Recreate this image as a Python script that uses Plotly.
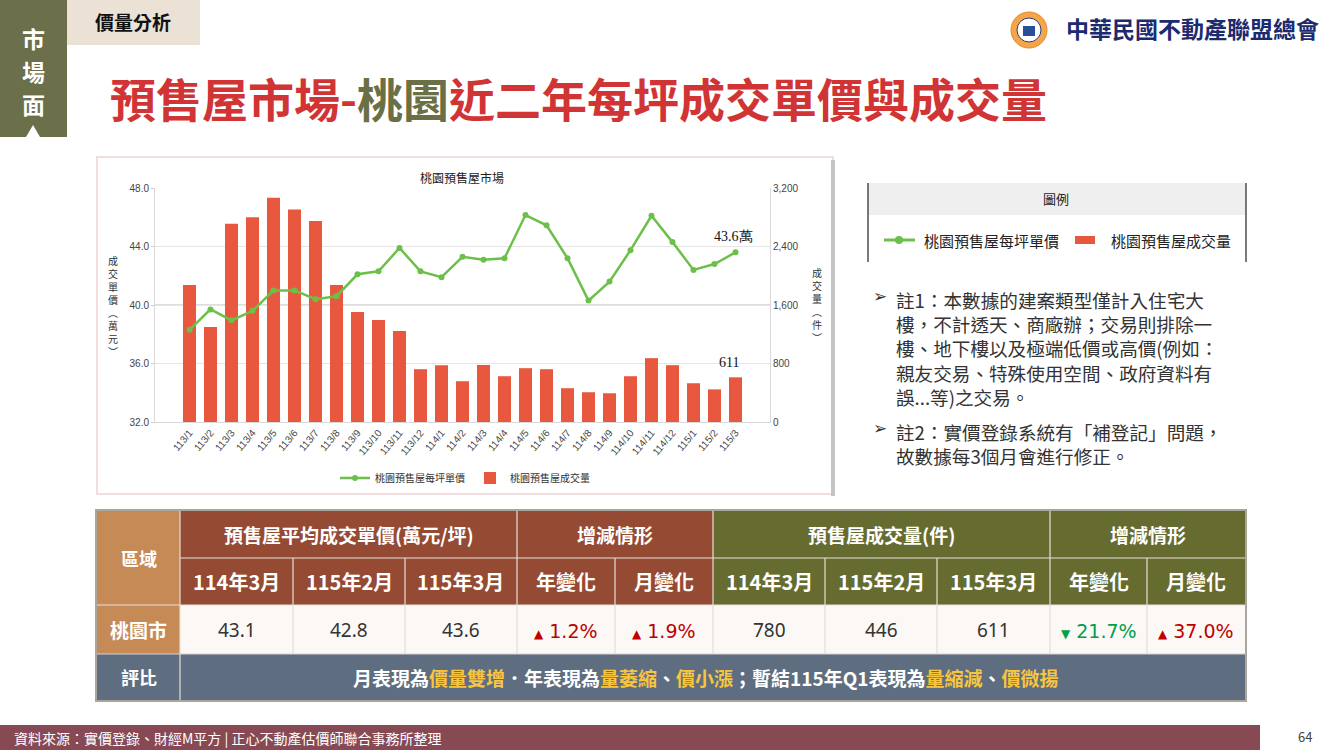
import plotly.graph_objects as go

# ---------------- data ----------------
months = ["113/1", "113/2", "113/3", "113/4", "113/5", "113/6", "113/7", "113/8", "113/9",
          "113/10", "113/11", "113/12", "114/1", "114/2", "114/3", "114/4", "114/5", "114/6",
          "114/7", "114/8", "114/9", "114/10", "114/11", "114/12", "115/1", "115/2", "115/3"]
price = [38.3, 39.7, 38.95, 39.6, 41.0, 41.0, 40.4, 40.6, 42.1, 42.3, 43.9, 42.3, 41.9,
         43.3, 43.1, 43.2, 46.15, 45.45, 43.2, 40.3, 41.6, 43.75, 46.1, 44.3, 42.4, 42.8, 43.6]
volume = [1875, 1300, 2710, 2800, 3065, 2905, 2750, 1875, 1505, 1395, 1245, 722, 776,
          558, 780, 626, 736, 722, 462, 407, 393, 626, 873, 777, 530, 446, 611]

price_ticks = [32, 36, 40, 44, 48]
volume_ticks = [0, 800, 1600, 2400, 3200]

table_months = ["114/3", "115/2", "115/3"]
table_periods = ["114年3月", "115年2月", "115年3月"]
region = "桃園市"

notes1 = ["註1：本數據的建案類型僅計入住宅大", "樓，不計透天、商廠辦；交易則排除一",
          "樓、地下樓以及極端低價或高價(例如：", "親友交易、特殊使用空間、政府資料有", "誤...等)之交易。"]
notes2 = ["註2：實價登錄系統有「補登記」問題，", "故數據每3個月會進行修正。"]

# ---------------- helpers ----------------
W, H = 1330, 750
FONT = "Noto Sans CJK TC, Noto Sans, sans-serif"


def X(p):
    return p / W


def Y(p):
    return 1 - p / H


shapes = []
annos = []


def rect(x0, y0, x1, y1, fill, line=None, lw=0, layer="below"):
    shapes.append(dict(type="rect", xref="paper", yref="paper", x0=X(x0), x1=X(x1),
                       y0=Y(y1), y1=Y(y0), fillcolor=fill, layer=layer,
                       line=dict(color=line or fill, width=lw)))


def hline(x0, x1, y, color, w=1, layer="above"):
    shapes.append(dict(type="line", xref="paper", yref="paper", x0=X(x0), x1=X(x1),
                       y0=Y(y), y1=Y(y), layer=layer, line=dict(color=color, width=w)))


def vline(x, y0, y1, color, w=1, layer="above"):
    shapes.append(dict(type="line", xref="paper", yref="paper", x0=X(x), x1=X(x),
                       y0=Y(y0), y1=Y(y1), layer=layer, line=dict(color=color, width=w)))


def text(x, y, s, size=14, color="#333", xanchor="center", yanchor="middle", family=FONT,
         bold=False, align="center"):
    if bold:
        s = "<b>" + s + "</b>"
    annos.append(dict(xref="paper", yref="paper", x=X(x), y=Y(y), text=s, showarrow=False,
                      xanchor=xanchor, yanchor=yanchor, align=align,
                      font=dict(size=size, color=color, family=family)))


# ---------------- chart ----------------
fig = go.Figure()
fig.add_trace(go.Scatter(x=months, y=price, name="桃園預售屋每坪單價", yaxis="y2",
                         mode="lines+markers", line=dict(color="#6cc04a", width=2.5),
                         marker=dict(size=6, color="#6cc04a")))
fig.add_trace(go.Bar(x=months, y=volume, name="桃園預售屋成交量", yaxis="y",
                     marker=dict(color="#e8583f", line=dict(width=0))))

PL, PR, PT, PB = 155, 770, 188, 422
tickfont = dict(size=10, color="#444", family="Liberation Sans, DejaVu Sans, sans-serif")

fig.update_layout(
    width=W, height=H, margin=dict(l=0, r=0, t=0, b=0),
    paper_bgcolor="white", plot_bgcolor="white",
    bargap=0.38, showlegend=True,
    legend=dict(orientation="h", x=X(465), y=Y(478), xanchor="center", yanchor="middle",
                font=dict(size=10, color="#333", family=FONT), bgcolor="rgba(0,0,0,0)",
                itemwidth=30, traceorder="normal"),
    xaxis=dict(domain=[X(PL), X(PR)], type="category", tickangle=-50, tickfont=tickfont,
               showgrid=False, showline=True, linecolor="#d9d9d9", ticks="", automargin=False),
    yaxis=dict(domain=[Y(PB), Y(PT)], side="right", range=[0, 3200], tickvals=volume_ticks,
               ticktext=[f"{v:,}" for v in volume_ticks], tickfont=tickfont,
               showgrid=True, gridcolor="#e6e6e6", zeroline=False, showline=True,
               linecolor="#d9d9d9", automargin=False),
    yaxis2=dict(overlaying="y", side="left", range=[32, 48], tickvals=price_ticks,
                ticktext=[f"{v:.1f}" for v in price_ticks], tickfont=tickfont,
                showgrid=False, zeroline=False, showline=True, linecolor="#d9d9d9",
                ticks="outside", ticklen=3, tickcolor="#ccc", automargin=False),
)

# middle darker gridline at 40.0
shapes.append(dict(type="line", xref="paper", yref="y2", x0=X(PL), x1=X(PR), y0=40, y1=40,
                   layer="below", line=dict(color="#bdbdbd", width=1.2)))

# data labels on last point
annos.append(dict(xref="x", yref="y2", x=months[-1], y=price[-1], text=f"{price[-1]:.1f}萬",
                  showarrow=False, yanchor="bottom", yshift=6, xshift=-2,
                  font=dict(size=14, color="#111", family="Liberation Serif, serif")))
annos.append(dict(xref="x", yref="y", x=months[-1], y=volume[-1], text=f"{volume[-1]}",
                  showarrow=False, yanchor="bottom", yshift=5, xshift=-7,
                  font=dict(size=14, color="#111", family="Liberation Serif, serif")))

# chart frame + title + vertical axis titles
rect(97, 157, 833, 494, "rgba(0,0,0,0)", line="#f0d2d2", lw=1.5)
rect(831, 160, 835, 496, "#c4c4c4")
text(462, 177, "桃園預售屋市場", size=12, color="#222")
text(113, 306, "<br>".join(list("成交單價︵萬元︶")), size=10, color="#333")
text(817, 305, "<br>".join(list("成交量︵件︶")), size=10, color="#333")

# ---------------- header ----------------
rect(0, 0, 67, 137, "#6b6f4a")
for ch, yy in zip("市場面", [38, 71, 104]):
    text(33, yy, ch, size=23, color="white", bold=True)
shapes.append(dict(type="path", xref="paper", yref="paper",
                   path=f"M {X(26)} {Y(137)} L {X(40)} {Y(137)} L {X(33)} {Y(125)} Z",
                   fillcolor="white", line=dict(width=0), layer="above"))
rect(67, 0, 200, 45, "#ebe1d5")
text(133, 22, "價量分析", size=19, color="#111", bold=True)

title_html = ("<b><span style='color:#d13434'>預售屋市場-</span>"
              "<span style='color:#6b6f45'>桃園</span>"
              "<span style='color:#d13434'>近二年每坪成交單價與成交量</span></b>")
text(108, 97, title_html, size=46, xanchor="left")

# logo
shapes.append(dict(type="circle", xref="paper", yref="paper", x0=X(1011), x1=X(1047),
                   y0=Y(48), y1=Y(12), fillcolor="#f5a54a", line=dict(color="#e88a2a", width=1)))
shapes.append(dict(type="circle", xref="paper", yref="paper", x0=X(1017), x1=X(1041),
                   y0=Y(42), y1=Y(18), fillcolor="white", line=dict(color="#2a3f7a", width=1)))
rect(1023, 26, 1035, 36, "#2a4f9a", layer="above")
text(1192, 28, "中華民國不動產聯盟總會", size=23, color="#1c2a6e", bold=True)

# ---------------- legend box ----------------
rect(868, 183, 1246, 215, "#efefef")
vline(868, 183, 262, "#222", 1.2)
vline(1246, 183, 262, "#222", 1.2)
text(1056, 199, "圖例", size=13, color="#222")
hline(884, 915, 240, "#6cc04a", 3)
shapes.append(dict(type="circle", xref="paper", yref="paper", x0=X(895), x1=X(903),
                   y0=Y(244), y1=Y(236), fillcolor="#6cc04a", line=dict(width=0)))
text(922, 240, "桃園預售屋每坪單價", size=15, color="#222", xanchor="left")
rect(1075, 236, 1095, 244, "#e8583f", layer="above")
text(1109, 240, "桃園預售屋成交量", size=15, color="#222", xanchor="left")

# ---------------- notes ----------------
NS = 18.6
text(880, 296, "➢", size=17, color="#333", family="DejaVu Sans")
text(894, 284, "<br>".join(notes1), size=NS, color="#333", xanchor="left", yanchor="top", align="left")
text(880, 428, "➢", size=17, color="#333", family="DejaVu Sans")
text(894, 416, "<br>".join(notes2), size=NS, color="#333", xanchor="left", yanchor="top", align="left")

# ---------------- table ----------------
cols = [97, 180, 293, 405, 517, 615, 713, 825, 937, 1050, 1147, 1245]
rows = [511, 558, 605, 654, 700]
TAN, BROWN, OLIVE, SLATE = "#c68a57", "#954a34", "#666c30", "#5e6e80"

idx = [months.index(m) for m in table_months]
p_vals = [price[i] for i in idx]
v_vals = [volume[i] for i in idx]


def pct(a, b):
    return (a / b - 1) * 100


changes_p = [pct(p_vals[2], p_vals[0]), pct(p_vals[2], p_vals[1])]
changes_v = [pct(v_vals[2], v_vals[0]), pct(v_vals[2], v_vals[1])]

rect(97, 511, 1245, 700, "#fbf8f6")
rect(cols[0], rows[0], cols[1], rows[2], TAN)
rect(cols[1], rows[0], cols[6], rows[2], BROWN)
rect(cols[6], rows[0], cols[11], rows[2], OLIVE)
rect(cols[0], rows[2], cols[1], rows[3], TAN)
rect(cols[0], rows[3], cols[11], rows[4], SLATE)

# grid lines
hline(cols[1], cols[11], rows[1], "#e8e2da", 1.2)
hline(cols[0], cols[11], rows[2], "#e8e2da", 1.2)
hline(cols[0], cols[11], rows[3], "#d8d2cb", 1.2)
for c in cols[2:11]:
    vline(c, rows[1], rows[3], "#e4ded7", 1.2)
for c in [cols[4], cols[6], cols[9]]:
    vline(c, rows[0], rows[1], "#e8e2da", 1.2)
vline(cols[1], rows[0], rows[4], "#e4ded7", 1.2)
rect(96, 510, 1246, 701, "rgba(0,0,0,0)", line="#aaa59d", lw=2, layer="above")


def cx(a, b):
    return (cols[a] + cols[b]) / 2


def cy(a, b):
    return (rows[a] + rows[b]) / 2


hs = 19
text(cx(0, 1), cy(0, 2), "區域", size=18, color="white", bold=True)
text(cx(1, 4), cy(0, 1), "預售屋平均成交單價(萬元/坪)", size=hs, color="white", bold=True)
text(cx(4, 6), cy(0, 1), "增減情形", size=hs, color="white", bold=True)
text(cx(6, 9), cy(0, 1), "預售屋成交量(件)", size=hs, color="white", bold=True)
text(cx(9, 11), cy(0, 1), "增減情形", size=hs, color="white", bold=True)
sub = table_periods + ["年變化", "月變化"] + table_periods + ["年變化", "月變化"]
for k, s in enumerate(sub):
    text(cx(k + 1, k + 2), cy(1, 2), s, size=20, color="white", bold=True)

text(cx(0, 1), cy(2, 3), region, size=19, color="white", bold=True)
NUMF = "Noto Sans, Open Sans, sans-serif"
for k, v in enumerate(p_vals):
    text(cx(k + 1, k + 2), cy(2, 3), f"{v:.1f}", size=19, color="#333", family=NUMF)
for k, v in enumerate(v_vals):
    text(cx(k + 6, k + 7), cy(2, 3), f"{v}", size=19, color="#333", family=NUMF)


def chg(v):
    if v >= 0:
        return f"<span style='font-size:12px'>▲</span> {abs(v):.1f}%", "#c00000"
    return f"<span style='font-size:12px'>▼</span> {abs(v):.1f}%", "#00a04a"


for k, v in enumerate(changes_p):
    s, c = chg(v)
    text(cx(k + 4, k + 5), cy(2, 3) + 1, s, size=19, color=c, family="DejaVu Sans, Noto Sans, sans-serif")
for k, v in enumerate(changes_v):
    s, c = chg(v)
    text(cx(k + 9, k + 10), cy(2, 3) + 1, s, size=19, color=c, family="DejaVu Sans, Noto Sans, sans-serif")

text(cx(0, 1), cy(3, 4), "評比", size=18, color="white", bold=True)
Yel = "#f7c53f"
comment = ("月表現為<span style='color:%s'>價量雙增</span>．年表現為<span style='color:%s'>量萎縮</span>、"
           "<span style='color:%s'>價小漲</span>；暫結115年Q1表現為<span style='color:%s'>量縮減</span>、"
           "<span style='color:%s'>價微揚</span>") % (Yel, Yel, Yel, Yel, Yel)
text(cx(1, 11) - 7, cy(3, 4), comment, size=19, color="white", bold=True)

# ---------------- footer ----------------
rect(0, 725, 1260, 750, "#874a55")
text(12, 738, "資料來源：實價登錄、財經M平方 | 正心不動產估價師聯合事務所整理", size=14, color="white", xanchor="left")
text(1305, 736, "64", size=13, color="#444")

fig.update_layout(shapes=shapes, annotations=annos)
fig.write_html("out.html", config={"displayModeBar": False},
               post_script="document.body.style.margin='0';document.body.style.overflow='hidden';")
